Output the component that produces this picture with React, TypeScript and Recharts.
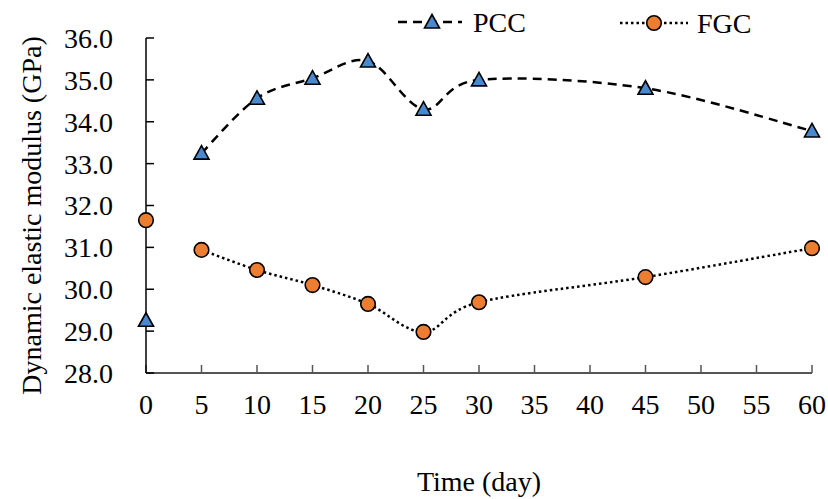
import { LineChart, Line, XAxis, YAxis, Label } from "recharts";

const FONT = '"Liberation Serif", "Times New Roman", serif';
const BLUE = "#4A89D0";
const ORANGE = "#ED7D31";

const days = [5, 10, 15, 20, 25, 30, 45, 60];
const pccValues = [33.25, 34.56, 35.04, 35.45, 34.3, 35.0, 34.8, 33.78];
const fgcValues = [30.94, 30.46, 30.1, 29.65, 28.98, 29.69, 30.29, 30.98];
const pccDay0 = 29.26;
const fgcDay0 = 31.65;
const xTicks = [0, 5, 10, 15, 20, 25, 30, 35, 40, 45, 50, 55, 60];
const yTicks = [28, 29, 30, 31, 32, 33, 34, 35, 36];

const pccData = days.map((d, i) => ({ day: d, value: pccValues[i] }));
const fgcData = days.map((d, i) => ({ day: d, value: fgcValues[i] }));
const pccStart = [{ day: 0, value: pccDay0 }];
const fgcStart = [{ day: 0, value: fgcDay0 }];

// Excel-like smoothed line (Catmull-Rom through every point)
const smoothCurve = (context: any) => {
  let pts: [number, number][] = [];
  return {
    areaStart() {},
    areaEnd() {},
    lineStart() {
      pts = [];
    },
    point(x: number, y: number) {
      pts.push([+x, +y]);
    },
    lineEnd() {
      const n = pts.length;
      if (!n) return;
      context.moveTo(pts[0][0], pts[0][1]);
      for (let i = 0; i < n - 1; i++) {
        const p0 = pts[i - 1] || pts[i];
        const p1 = pts[i];
        const p2 = pts[i + 1];
        const p3 = pts[i + 2] || p2;
        context.bezierCurveTo(
          p1[0] + (p2[0] - p0[0]) / 6,
          p1[1] + (p2[1] - p0[1]) / 6,
          p2[0] - (p3[0] - p1[0]) / 6,
          p2[1] - (p3[1] - p1[1]) / 6,
          p2[0],
          p2[1]
        );
      }
    },
  };
};

const Triangle = ({ cx, cy }: { cx?: number; cy?: number }) => {
  if (cx == null || cy == null) return null;
  const w = 7.5;
  return (
    <polygon
      points={`${cx - w},${cy + 6} ${cx + w},${cy + 6} ${cx},${cy - 7.5}`}
      fill={BLUE}
      stroke="#000"
      strokeWidth={1.6}
      strokeLinejoin="miter"
    />
  );
};

const Circle = ({ cx, cy }: { cx?: number; cy?: number }) => {
  if (cx == null || cy == null) return null;
  return <circle cx={cx} cy={cy} r={7.3} fill={ORANGE} stroke="#000" strokeWidth={1.6} />;
};

const renderTriangle = (p: any) => <Triangle key={`t-${p.index}-${p.cx}`} cx={p.cx} cy={p.cy} />;
const renderCircle = (p: any) => <Circle key={`c-${p.index}-${p.cx}`} cx={p.cx} cy={p.cy} />;

const tickStyle = { fontSize: 28, fill: "#000", fontFamily: FONT };

function ChartLegend() {
  return (
    <svg
      width={828}
      height={50}
      style={{ position: "absolute", left: 0, top: 0, pointerEvents: "none" }}
    >
      <line x1={398} y1={22} x2={462} y2={22} stroke="#000" strokeWidth={2.5} strokeDasharray="9 6" />
      <Triangle cx={432} cy={22} />
      <text x={473} y={32} fontSize={28} fontFamily={FONT} fill="#000">
        PCC
      </text>
      <line x1={620} y1={23} x2={688} y2={23} stroke="#000" strokeWidth={2.5} strokeDasharray="2.5 3" />
      <Circle cx={654} cy={23} />
      <text x={697} y={33} fontSize={28} fontFamily={FONT} fill="#000">
        FGC
      </text>
    </svg>
  );
}

export default function App() {
  return (
    <div style={{ position: "absolute", left: 0, top: 0, width: 828, height: 499, background: "#fff" }}>
      <LineChart
        width={828}
        height={499}
        margin={{ top: 38, right: 16, left: 0, bottom: 0 }}
        style={{ fontFamily: FONT }}
      >
        <XAxis
          type="number"
          dataKey="day"
          domain={[0, 60]}
          ticks={xTicks}
          interval={0}
          height={126}
          tickSize={-8}
          tickMargin={29}
          tick={tickStyle}
          stroke="#555"
          axisLine={{ stroke: "#555", strokeWidth: 2 }}
          tickLine={{ stroke: "#555", strokeWidth: 1.5 }}
        >
          <Label
            content={({ viewBox }: any) => (
              <text
                x={viewBox.x + viewBox.width / 2}
                y={viewBox.y + 118}
                textAnchor="middle"
                fontSize={28}
                fontFamily={FONT}
                fill="#000"
              >
                Time (day)
              </text>
            )}
          />
        </XAxis>
        <YAxis
          type="number"
          domain={[28, 36]}
          ticks={yTicks}
          interval={0}
          width={146}
          tickSize={-8}
          tickMargin={41}
          tick={tickStyle}
          tickFormatter={(v: number) => v.toFixed(1)}
          axisLine={{ stroke: "#000", strokeWidth: 1.5 }}
          tickLine={{ stroke: "#000", strokeWidth: 1.5 }}
        >
          <Label
            content={({ viewBox }: any) => {
              const x = 31;
              const y = viewBox.y + viewBox.height / 2 + 10;
              return (
                <text
                  x={x}
                  y={y}
                  transform={`rotate(-90, ${x}, ${y})`}
                  textAnchor="middle"
                  dominantBaseline="central"
                  fontSize={28}
                  fontFamily={FONT}
                  fill="#000"
                >
                  Dynamic elastic modulus (GPa)
                </text>
              );
            }}
          />
        </YAxis>
        <Line
          data={pccData}
          dataKey="value"
          type={smoothCurve as any}
          stroke="#000"
          strokeWidth={2.5}
          strokeDasharray="9 6"
          dot={renderTriangle}
          activeDot={false}
          isAnimationActive={false}
        />
        <Line
          data={fgcData}
          dataKey="value"
          type={smoothCurve as any}
          stroke="#000"
          strokeWidth={2.5}
          strokeDasharray="2.5 3"
          dot={renderCircle}
          activeDot={false}
          isAnimationActive={false}
        />
        <Line
          data={pccStart}
          dataKey="value"
          stroke="none"
          dot={renderTriangle}
          activeDot={false}
          isAnimationActive={false}
        />
        <Line
          data={fgcStart}
          dataKey="value"
          stroke="none"
          dot={renderCircle}
          activeDot={false}
          isAnimationActive={false}
        />
      </LineChart>
      <ChartLegend />
    </div>
  );
}
